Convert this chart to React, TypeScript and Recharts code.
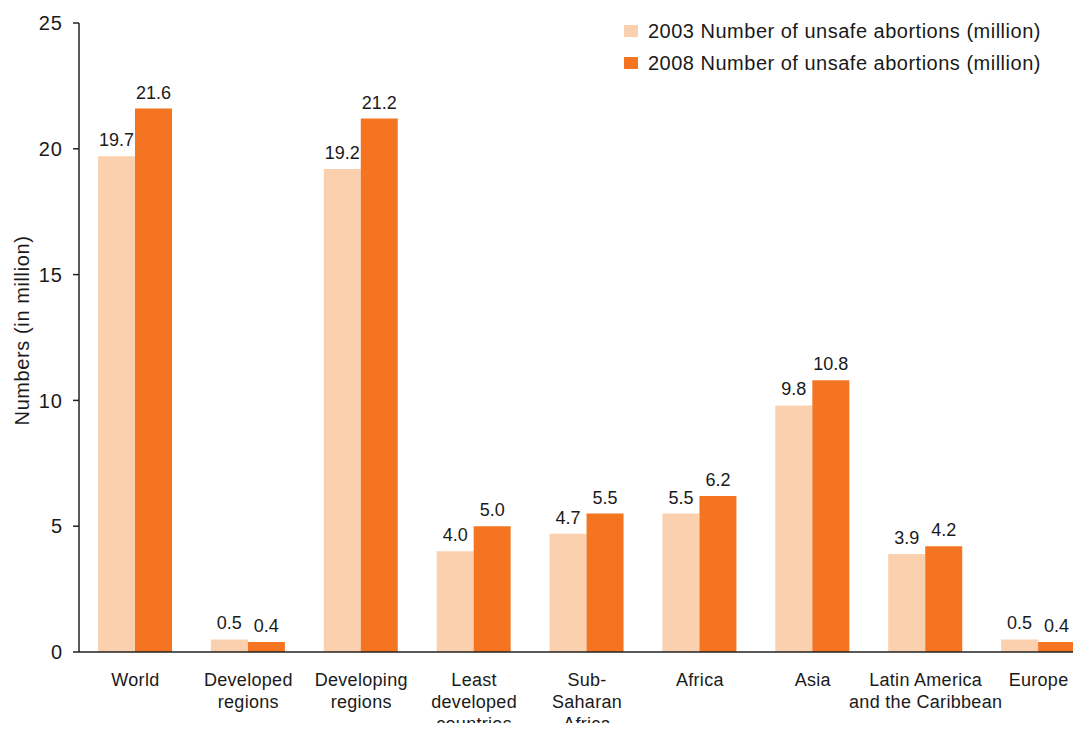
import { BarChart, Bar, XAxis, YAxis, LabelList, Label } from 'recharts'

const regions = [
  'World',
  'Developed\nregions',
  'Developing\nregions',
  'Least\ndeveloped\ncountries',
  'Sub-\nSaharan\nAfrica',
  'Africa',
  'Asia',
  'Latin America\nand the Caribbean',
  'Europe',
]
const unsafe2003 = [19.7, 0.5, 19.2, 4.0, 4.7, 5.5, 9.8, 3.9, 0.5]
const unsafe2008 = [21.6, 0.4, 21.2, 5.0, 5.5, 6.2, 10.8, 4.2, 0.4]
const yTicks = [0, 5, 10, 15, 20, 25]

const series = [
  { key: 'y2003', name: '2003 Number of unsafe abortions (million)', color: '#FBD0AF' },
  { key: 'y2008', name: '2008 Number of unsafe abortions (million)', color: '#F47421' },
]

const data = regions.map((region, i) => ({
  region,
  y2003: unsafe2003[i],
  y2008: unsafe2008[i],
}))

const font = '"Liberation Sans", Arial, sans-serif'
const ink = '#1a1a1a'

function RegionTick(props: any) {
  const { x, y, payload } = props
  const lines = String(payload.value).split('\n')
  return (
    <text x={x} y={y + 26} textAnchor="middle" fontSize={18} letterSpacing={0.3} fill={ink} fontFamily={font}>
      {lines.map((line, i) => (
        <tspan key={i} x={x} dy={i === 0 ? 0 : 22}>
          {line}
        </tspan>
      ))}
    </text>
  )
}

function AxisTitle(props: any) {
  const { viewBox } = props
  const cx = viewBox.x + 22
  const cy = viewBox.y + viewBox.height / 2 - 7
  return (
    <text
      x={cx}
      y={cy}
      transform={`rotate(-90, ${cx}, ${cy})`}
      textAnchor="middle"
      dominantBaseline="central"
      fontSize={20}
      letterSpacing={0.6}
      fill={ink}
      fontFamily={font}
    >
      Numbers (in million)
    </text>
  )
}

// legend drawn as an overlay so it doesn't eat into the plot area
function LegendBox() {
  return (
    <div
      style={{
        position: 'absolute',
        top: 15,
        left: 624,
        fontFamily: font,
        fontSize: 20,
        letterSpacing: 0.5,
        color: ink,
      }}
    >
      {series.map((s) => (
        <div key={s.key} style={{ display: 'flex', alignItems: 'center', height: 32 }}>
          <span style={{ width: 14, height: 12, background: s.color, marginRight: 10 }} />
          {s.name}
        </div>
      ))}
    </div>
  )
}

export default function App() {
  return (
    <div
      style={{ position: 'relative', margin: -8, width: 1081, height: 731, overflow: 'hidden', background: '#fff' }}
    >
      <BarChart
        width={1100}
        height={731}
        data={data}
        margin={{ top: 23, right: 5, bottom: 0, left: 0 }}
        barCategoryGap={19}
        barGap={0}
      >
        <XAxis
          dataKey="region"
          interval={0}
          height={79}
          tickLine={false}
          axisLine={{ stroke: '#222', strokeWidth: 1.5 }}
          tick={<RegionTick />}
        />
        <YAxis
          domain={[0, 25]}
          ticks={yTicks}
          width={79}
          tickSize={6}
          tickMargin={10}
          axisLine={{ stroke: '#222', strokeWidth: 1.5 }}
          tickLine={{ stroke: '#222', strokeWidth: 1.5 }}
          tick={{ fontSize: 20, letterSpacing: 1, fill: ink, fontFamily: font }}
        >
          <Label content={<AxisTitle />} />
        </YAxis>
        {series.map((s) => (
          <Bar key={s.key} dataKey={s.key} name={s.name} fill={s.color} isAnimationActive={false}>
            <LabelList
              dataKey={s.key}
              position="top"
              offset={10}
              formatter={(v: any) => Number(v).toFixed(1)}
              style={{ fontSize: 18, fill: ink, fontFamily: font }}
            />
          </Bar>
        ))}
      </BarChart>
      <LegendBox />
    </div>
  )
}
